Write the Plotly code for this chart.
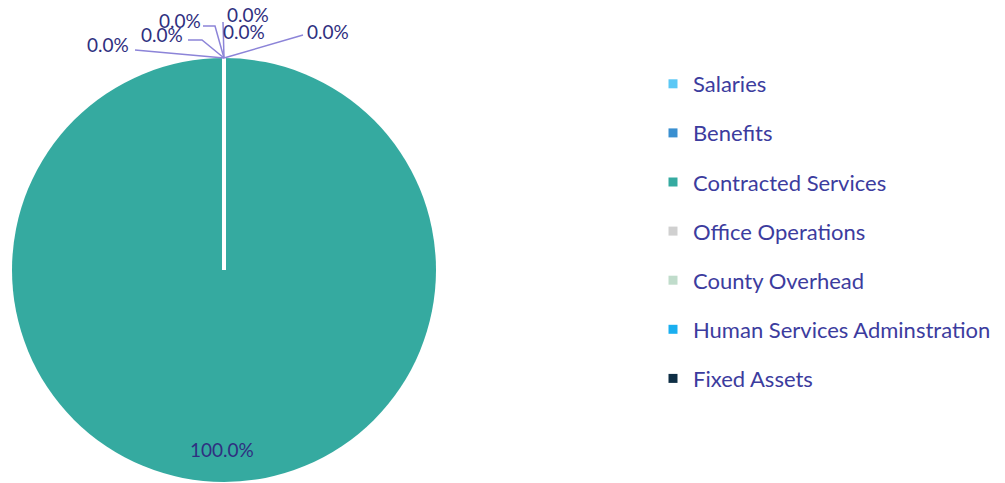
import plotly.graph_objects as go

# Budget categories and their shares
categories = [
    "Salaries",
    "Benefits",
    "Contracted Services",
    "Office Operations",
    "County Overhead",
    "Human Services Adminstration",
    "Fixed Assets",
]
amounts = [0, 0, 100, 0, 0, 0, 0]
colors = ["#5BC8F5", "#3A8FD0", "#35AAA0", "#D0D0D0", "#C0DCCB", "#1AAFF0", "#0E2E45"]

# Canvas and pie geometry (pixels)
W, H = 1005, 483
CX, CY, R = 224, 270, 212

# Label placement for the zero-share slices: text centre and leader-line bend,
# as pixel offsets from the top of the pie
zero_label_layout = {
    "Salaries": dict(text=(104, -27), bend=[(79, -23)]),
    "Benefits": dict(text=(20, -26), bend=[]),
    "Office Operations": dict(text=(24, -44), bend=[(-1, -36)]),
    "County Overhead": dict(text=(-44, -38), bend=[(-9, -32), (-21, -32)]),
    "Human Services Adminstration": dict(text=(-62, -24), bend=[(-22, -18), (-36, -18)]),
    "Fixed Assets": dict(text=(-116, -14), bend=[(-89, -8)]),
}

TEXT_COLOR = "#3C3C9E"
LABEL_COLOR = "#2F2F80"
LEADER_COLOR = "#8C84D8"
FONT = "Lato, 'Open Sans', sans-serif"


def px(x):
    return x / W


def py(y):
    return 1 - y / H


total = sum(amounts)
pct = [a / total * 100 for a in amounts]

fig = go.Figure()

fig.add_trace(
    go.Pie(
        labels=categories,
        values=amounts,
        marker=dict(colors=colors, line=dict(color="white", width=0)),
        sort=False,
        direction="clockwise",
        rotation=0,
        textinfo="none",
        showlegend=False,
        domain=dict(x=[px(CX - R), px(CX + R)], y=[py(CY + R), py(CY - R)]),
    )
)

# Legend entries, one group each so the spacing can be set
for i, (cat, col) in enumerate(zip(categories, colors)):
    fig.add_trace(
        go.Scatter(
            x=[None],
            y=[None],
            mode="markers",
            name=cat,
            legendgroup=f"g{i}",
            marker=dict(symbol="square", size=9, color=col),
            showlegend=True,
        )
    )

shapes = []
annotations = []

# Slice border between the last and first slice (12 o'clock)
shapes.append(
    dict(
        type="line",
        xref="paper",
        yref="paper",
        x0=px(CX),
        y0=py(CY),
        x1=px(CX),
        y1=py(CY - R),
        line=dict(color="white", width=4),
    )
)

top = (CX, CY - R)
for cat, p in zip(categories, pct):
    if cat in zero_label_layout:
        spec = zero_label_layout[cat]
        pts = [top] + [(top[0] + dx, top[1] + dy) for dx, dy in spec["bend"]]
        if len(pts) > 1:
            path = "M " + " L ".join(f"{px(x)},{py(y)}" for x, y in pts)
            shapes.append(
                dict(
                    type="path",
                    xref="paper",
                    yref="paper",
                    path=path,
                    line=dict(color=LEADER_COLOR, width=1.5),
                )
            )
        tx, ty = spec["text"]
        annotations.append(
            dict(
                x=px(top[0] + tx),
                y=py(top[1] + ty),
                xref="paper",
                yref="paper",
                text=f"{p:.1f}%",
                showarrow=False,
                font=dict(size=19, color=LABEL_COLOR, family=FONT),
                xanchor="center",
                yanchor="middle",
            )
        )
    else:
        # Large slice: label placed at the slice's mid-angle near the rim
        annotations.append(
            dict(
                x=px(CX - 2),
                y=py(CY + 179),
                xref="paper",
                yref="paper",
                text=f"{p:.1f}%",
                showarrow=False,
                font=dict(size=19, color=LABEL_COLOR, family=FONT),
                xanchor="center",
                yanchor="middle",
            )
        )

fig.update_layout(
    width=W,
    height=H,
    margin=dict(l=0, r=0, t=0, b=0),
    paper_bgcolor="white",
    plot_bgcolor="white",
    xaxis=dict(visible=False),
    yaxis=dict(visible=False),
    font=dict(family=FONT, color=TEXT_COLOR),
    legend=dict(
        x=px(653),
        y=py(63),
        xanchor="left",
        yanchor="top",
        font=dict(size=22, color=TEXT_COLOR, family=FONT),
        tracegroupgap=17.5,
        itemwidth=30,
        bgcolor="rgba(0,0,0,0)",
    ),
    shapes=shapes,
    annotations=annotations,
)

fig.write_html("out.html")
